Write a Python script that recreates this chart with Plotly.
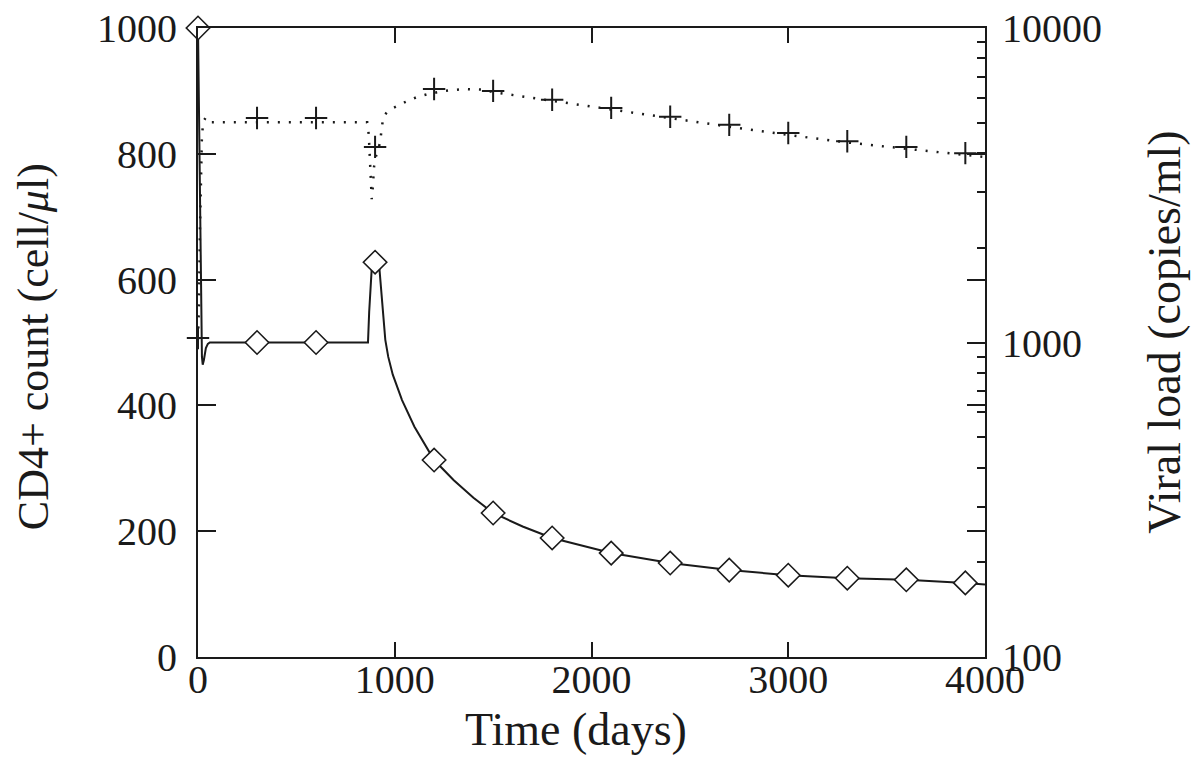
import plotly.graph_objects as go

# ---- Viral load (right, log axis): model curve (solid) and data (diamonds)
vl_model_t = [0, 4, 8, 12, 16, 20, 24, 30, 40, 50, 60, 860, 864, 870, 877, 883, 895,
              910, 922, 928, 935, 942, 952, 967, 990, 1037, 1100, 1200, 1300, 1400,
              1500, 1650, 1800, 2100, 2400, 2700, 3000, 3300, 3600, 3900, 4000]
vl_model = [10000, 6000, 3000, 1700, 1100, 900, 850, 880, 960, 990, 1000, 1000, 1000,
            1250, 1550, 1720, 1760, 1760, 1720, 1550, 1350, 1180, 1020, 900, 790, 656,
            540, 423, 365, 321, 287, 260, 239, 214, 199, 189, 182, 178, 176, 172, 170]
obs_t = [0, 300, 600, 900, 1200, 1500, 1800, 2100, 2400, 2700, 3000, 3300, 3600, 3900]
vl_obs = [10000, 1000, 1000, 1800, 423, 287, 239, 214, 199, 189, 182, 178, 176, 172]

# ---- CD4+ count (left axis): model curve (dotted) and data (plus)
cd4_model_t = [0, 5, 10, 15, 20, 28, 40, 64, 860, 868, 874, 879, 883, 888, 895, 908,
               925, 934, 942, 960, 993, 1052, 1111, 1171, 1250, 1350, 1450, 1500, 1800,
               2100, 2400, 2700, 3000, 3300, 3600, 3900, 4000]
cd4_model = [505, 560, 680, 780, 830, 852, 858, 850, 850, 830, 790, 750, 728, 745, 780,
             801, 817, 841, 859, 866, 873, 882, 890, 895, 900, 903, 902, 898, 884, 870,
             856, 843, 830, 818, 808, 798, 795]
cd4_obs = [507, 857, 857, 811, 903, 900, 886, 873, 859, 846, 833, 820, 811, 801]

x_ticks = [0, 1000, 2000, 3000, 4000]
y_ticks = [0, 200, 400, 600, 800, 1000]
y2_ticks = [100, 1000, 10000]
y2_minor = [200, 300, 400, 500, 600, 700, 800, 900,
            2000, 3000, 4000, 5000, 6000, 7000, 8000, 9000]

FONT = "Liberation Serif"
INK = "#1a1a1a"

fig = go.Figure()
fig.add_trace(go.Scatter(x=cd4_model_t, y=cd4_model, mode="lines",
                         line=dict(color=INK, width=2.5, dash="2px,9px"),
                         yaxis="y", cliponaxis=False))
fig.add_trace(go.Scatter(x=vl_model_t, y=vl_model, mode="lines",
                         line=dict(color=INK, width=2), yaxis="y2", cliponaxis=False))
fig.add_trace(go.Scatter(x=obs_t, y=cd4_obs, mode="markers",
                         marker=dict(symbol="cross-thin", size=16,
                                     line=dict(color=INK, width=2)),
                         yaxis="y", cliponaxis=False))
fig.add_trace(go.Scatter(x=obs_t, y=vl_obs, mode="markers",
                         marker=dict(symbol="diamond", size=18, color="white",
                                     line=dict(color=INK, width=1.6)),
                         yaxis="y2", cliponaxis=False))

axis_common = dict(showgrid=False, zeroline=False, showline=True, linecolor=INK,
                   linewidth=2, ticks="inside", tickcolor=INK, tickwidth=1.6,
                   automargin=False, ticklabeloverflow="allow")

fig.update_layout(
    width=1200, height=761,
    margin=dict(l=190, r=223, t=20, b=112, autoexpand=False),
    plot_bgcolor="white", paper_bgcolor="white",
    showlegend=False,
    font=dict(family=FONT, size=40, color=INK),
    xaxis=dict(range=[0, 4000], tickvals=x_ticks, ticklen=15, mirror="ticks",
               ticklabelstandoff=-14, **axis_common),
    yaxis=dict(range=[0, 1000], tickvals=y_ticks, ticklen=18, mirror="ticks",
               ticklabelstandoff=11, **axis_common),
    yaxis2=dict(type="log", range=[2, 4], overlaying="y", side="right",
                tickvals=y2_ticks, ticktext=[str(v) for v in y2_ticks], ticklen=18,
                ticklabelstandoff=7,
                minor=dict(tickvals=y2_minor, ticklen=8, ticks="inside",
                           tickcolor=INK, tickwidth=1.6),
                **axis_common),
    annotations=[
        dict(text="Time (days)", xref="paper", yref="paper", x=0.48, y=-0.116,
             xanchor="center", yanchor="middle", showarrow=False,
             font=dict(size=46, family=FONT, color=INK)),
        dict(text="CD4+ count (cell/<i>μ</i>l)", xref="paper", yref="paper",
             x=-0.208, y=0.493, xanchor="center", yanchor="middle", textangle=-90,
             showarrow=False, font=dict(size=44, family=FONT, color=INK)),
        dict(text="Viral load (copies/ml)", xref="paper", yref="paper",
             x=1.2287, y=0.517, xanchor="center", yanchor="middle", textangle=-90,
             showarrow=False, font=dict(size=46, family=FONT, color=INK)),
    ],
)

fig.write_html("out.html")
